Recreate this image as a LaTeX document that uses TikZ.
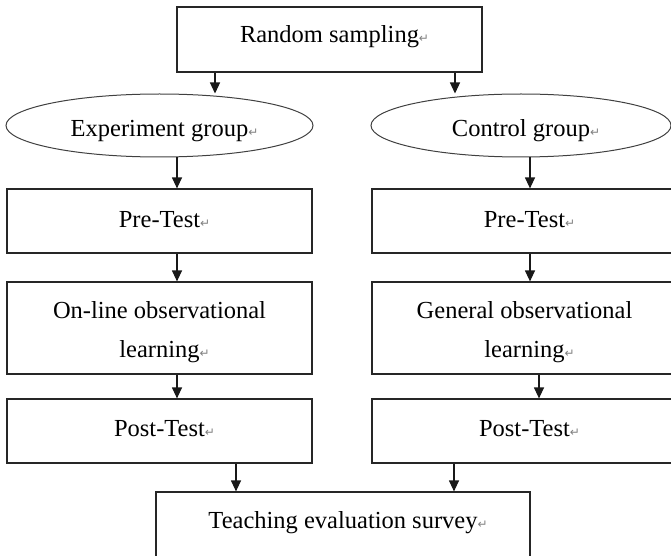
\documentclass[tikz,border=0pt]{standalone}
\usepackage{fontspec}
\setmainfont{Liberation Serif}
\newfontfamily\markfont{DejaVu Sans}
\usetikzlibrary{shapes.geometric,arrows.meta}
% paragraph mark after each text, kept out of the centring width
\newcommand\parmark{\rlap{\markfont\fontsize{12}{12}\selectfont\textcolor{black!50}{↵}}}
% two centred lines, baseline of the node on the first line
\newcommand\twolines[2]{\vtop{\baselineskip=39pt\lineskiplimit=-\maxdimen
  \halign{\hfil##\hfil\cr#1\cr#2\cr}}}
\begin{document}
\begin{tikzpicture}[x=1pt,y=-1pt,
  box/.style={draw=black!85, line width=1.2pt, rectangle, inner sep=0pt,
    anchor=base, font=\fontsize{24.5}{39}\selectfont},
  oval/.style={draw=black!75, line width=1pt, ellipse, inner sep=0pt,
    minimum height=63pt, text height=23pt, text depth=0pt,
    font=\fontsize{24.5}{39}\selectfont},
  arr/.style={-{Triangle[length=11pt,width=10pt]}, line width=1.2pt, draw=black!90}]
\useasboundingbox (0,0) rectangle (671,556);
\clip (0,0) rectangle (671,556);

% columns of the connectors
\coordinate (xa) at (215,0);
\coordinate (xb) at (455,0);
\coordinate (xc) at (177,0);
\coordinate (xd) at (530,0);
\coordinate (xe) at (539,0);
\coordinate (xf) at (236,0);
\coordinate (xg) at (454,0);

\node[box, minimum width=305pt, text height=36pt, text depth=29pt] (rs) at (329.5,43)
  {Random sampling\parmark};

\node[oval, minimum width=307pt] (exp) at (159.5,125.5)
  {\makebox[0pt]{Experiment group\parmark}};
\node[oval, minimum width=300pt] (ctl) at (521,125.5)
  {\makebox[0pt]{Control group\parmark}};

\node[box, minimum width=305pt, text height=38pt, text depth=26pt] (pre1) at (159.5,227)
  {Pre-Test\parmark};
\node[box, minimum width=305pt, text height=38pt, text depth=26pt] (pre2) at (524.5,227)
  {Pre-Test\parmark};

\node[box, minimum width=305pt, text height=36pt, text depth=56pt] (learn1) at (159.5,318)
  {\twolines{On-line observational}{learning\parmark}};
\node[box, minimum width=305pt, text height=36pt, text depth=56pt] (learn2) at (524.5,318)
  {\twolines{General observational}{learning\parmark}};

\node[box, minimum width=305pt, text height=37pt, text depth=27pt] (post1) at (159.5,436)
  {Post-Test\parmark};
\node[box, minimum width=305pt, text height=37pt, text depth=27pt] (post2) at (524.5,436)
  {Post-Test\parmark};

\node[box, minimum width=374pt, text height=36pt, text depth=72pt] (tes) at (343,528)
  {Teaching evaluation survey\parmark};

\draw[arr] (rs.south -| xa) -- (exp.north -| xa);
\draw[arr] (rs.south -| xb) -- (ctl.north -| xb);
\draw[arr] (exp.south -| xc) -- (pre1.north -| xc);
\draw[arr] (ctl.south -| xd) -- (pre2.north -| xd);
\draw[arr] (pre1.south -| xc) -- (learn1.north -| xc);
\draw[arr] (pre2.south -| xd) -- (learn2.north -| xd);
\draw[arr] (learn1.south -| xc) -- (post1.north -| xc);
\draw[arr] (learn2.south -| xe) -- (post2.north -| xe);
\draw[arr] (post1.south -| xf) -- (tes.north -| xf);
\draw[arr] (post2.south -| xg) -- (tes.north -| xg);
\end{tikzpicture}
\end{document}
